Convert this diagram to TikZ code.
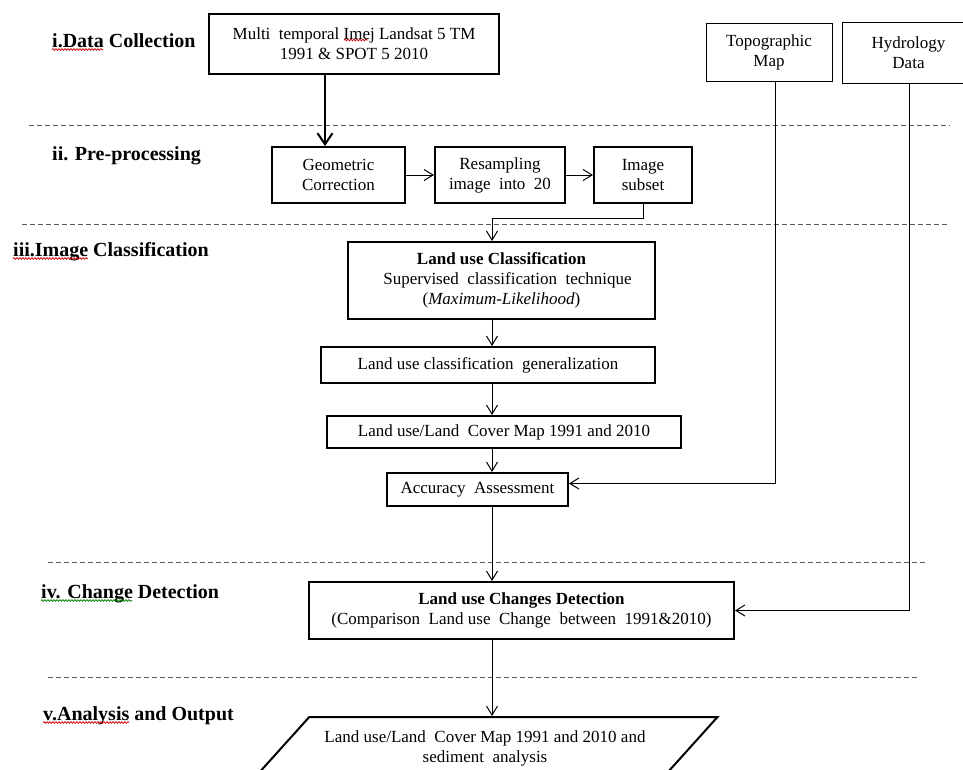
\documentclass[tikz,border=0pt]{standalone}
\usepackage{fontspec}
\setmainfont{Liberation Serif}
\usepackage{tikz}
\usetikzlibrary{shapes,arrows.meta,decorations.pathmorphing}

\begin{document}
\begin{tikzpicture}[x=1pt,y=-1pt]
  \tikzstyle{stage}=[anchor=base west,inner sep=0pt,font=\fontsize{20}{24}\selectfont\bfseries]
  \tikzstyle{boldbox}=[draw,line width=2pt,align=center,inner sep=0pt,font=\fontsize{17}{20}\selectfont]
  \tikzstyle{thinbox}=[boldbox,line width=1pt]
  \tikzstyle{flow}=[line width=1pt,-{Straight Barb[length=9pt,width=11pt]}]
  \tikzstyle{divider}=[gray!70!black,line width=1pt,dash pattern=on 5pt off 3pt]
  \tikzstyle{redwave}=[red!80!black,line width=0.7pt,decorate,decoration={snake,amplitude=0.9pt,segment length=3pt}]
  \tikzstyle{greenwave}=[redwave,green!50!black]
\useasboundingbox (0,0) rectangle (963,769);

\draw[divider] (29,125) -- (950,125);
\draw[divider] (22,224) -- (950,224);
\draw[divider] (48,562) -- (925,562);
\draw[divider] (48,677) -- (918,677);

\node[stage] (lblI) at (52,47) {i.Data Collection};
\node[stage] (lblII) at (52,160) {ii. Pre-processing};
\node[stage] (lblIII) at (13,256) {iii.Image Classification};
\node[stage] (lblIV) at (41,598) {iv. Change Detection};
\node[stage] (lblV) at (43,720) {v.Analysis and Output};
\draw[redwave] ([yshift=-2.5pt]lblI.base west) -- ++(51,0);
\draw[redwave] ([yshift=-2.5pt]lblIII.base west) -- ++(75,0);
\draw[greenwave] ([yshift=-2.5pt]lblIV.base west) -- ++(91,0);
\draw[redwave] ([yshift=-2.5pt]lblV.base west) -- ++(86,0);

\node[boldbox,minimum width=290pt,minimum height=60pt] (data) at (354,44) {Multi\ \ temporal Imej Landsat 5 TM\\1991 \& SPOT 5 2010};
\draw[redwave] (344,40) -- (368,40);
\node[boldbox,minimum width=133pt,minimum height=56pt] (geo) at (338.5,175) {Geometric\\Correction};
\node[boldbox,minimum width=130pt,minimum height=56pt] (resamp) at (500,175) {Resampling\\image\ \ into\ \ 20};
\node[boldbox,minimum width=98pt,minimum height=56pt] (subset) at (643,175) {Image\\subset};
\node[thinbox,minimum width=126pt,minimum height=58pt] (topo) at (769,52) {Topographic\\Map};
\node[thinbox,minimum width=121pt,minimum height=61pt] (hydro) at (902.5,52.5) {\hspace*{12pt}Hydrology\\\hspace*{12pt}Data};

\node[boldbox,minimum width=307pt,minimum height=77pt] (cls) at (501.5,280.5) {\textbf{Land use Classification}\\\hspace*{12pt}Supervised\ \ classification\ \ technique\\(\textit{Maximum-Likelihood})};
\node[boldbox,minimum width=334pt,minimum height=36pt] (gen) at (488,365) {Land use classification\ \ generalization};
\node[boldbox,minimum width=354pt,minimum height=32pt] (lcmap) at (504,432) {Land use/Land\ \ Cover Map 1991 and 2010};
\node[boldbox,minimum width=181pt,minimum height=33pt] (acc) at (477.5,489.5) {Accuracy\ \ Assessment};
\node[boldbox,minimum width=425pt,minimum height=57pt] (chg) at (521.5,610.5) {\textbf{Land use Changes Detection}\\(Comparison\ \ Land use\ \ Change\ \ between\ \ 1991\&2010)};
\node[boldbox,trapezium,trapezium left angle=32,trapezium right angle=148,trapezium stretches body,minimum width=465pt,minimum height=63pt] (out) at (485,748.5) {Land use/Land\ \ Cover Map 1991 and 2010 and\\sediment\ \ analysis};

\coordinate (axis) at (492,0);
\coordinate (dcol) at (325,0);
\coordinate (topocol) at (775,0);
\coordinate (hydrocol) at (909,0);
\coordinate (bend) at (492,218);

\draw[flow,line width=2pt,-{Straight Barb[length=11pt,width=15pt]}] (data.south -| dcol) -- (geo.north -| dcol);
\draw[flow] (geo) -- (resamp);
\draw[flow] (resamp) -- (subset);
\draw[flow] (subset.south) |- (bend) -- (cls.north -| bend);
\draw[flow] (cls.south -| axis) -- (gen.north -| axis);
\draw[flow] (gen.south -| axis) -- (lcmap.north -| axis);
\draw[flow] (lcmap.south -| axis) -- (acc.north -| axis);
\draw[flow] (acc.south -| axis) -- (chg.north -| axis);
\draw[flow] (chg.south -| axis) -- (out.north -| axis);
\draw[flow] (topo.south -| topocol) |- ([yshift=6pt]acc.east);
\draw[flow] (hydro.south -| hydrocol) |- (chg.east);
\end{tikzpicture}
\end{document}
